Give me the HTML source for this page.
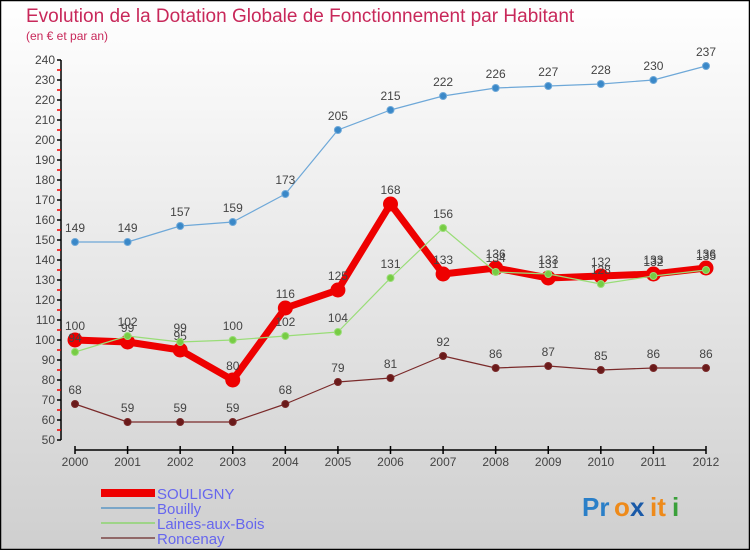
<!DOCTYPE html>
<html><head><meta charset="utf-8"><style>
body{margin:0;}
#c{width:750px;height:550px;position:relative;font-family:"Liberation Sans",sans-serif;}
</style></head><body>
<div id="c">
<svg width="750" height="550" id="svg">
<defs><linearGradient id="bg" x1="0" y1="0" x2="0" y2="1"><stop offset="0" stop-color="#ffffff"/><stop offset="1" stop-color="#cfcfcf"/></linearGradient></defs>
<rect x="0.5" y="0.5" width="749" height="549" fill="url(#bg)" stroke="#000" stroke-width="1.5"/>
<text x="26" y="22" font-size="19" fill="#c8285a">Evolution de la Dotation Globale de Fonctionnement par Habitant</text>
<text x="26" y="40" font-size="12" fill="#c8285a">(en € et par an)</text>
<g id="axes"></g><g id="series"></g>
<g>
<rect x="101" y="489" width="54" height="8" fill="#ee0000"/>
<text x="157" y="499" font-size="15" fill="#6666ee">SOULIGNY</text>
<line x1="101" y1="508" x2="155" y2="508" stroke="#7aa6c8" stroke-width="2"/>
<text x="157" y="514" font-size="15" fill="#6666ee">Bouilly</text>
<line x1="101" y1="523" x2="155" y2="523" stroke="#9ed488" stroke-width="2"/>
<text x="157" y="529" font-size="15" fill="#6666ee">Laines-aux-Bois</text>
<line x1="101" y1="538" x2="155" y2="538" stroke="#906868" stroke-width="2"/>
<text x="157" y="544" font-size="15" fill="#6666ee">Roncenay</text>
</g>
<g font-size="26" font-weight="bold">
<text x="582" y="516" fill="#2a7fc8">Pr</text><text x="614" y="516" fill="#ee8a1a">o</text><text x="630" y="516" fill="#1a5aa8">x</text><text x="650" y="516" fill="#ee8a1a">it</text><text x="672" y="516" fill="#3aa03a">i</text>
</g>
</svg>
</div>
<script>
const years=[2000,2001,2002,2003,2004,2005,2006,2007,2008,2009,2010,2011,2012];
const yTicks=[50,60,70,80,90,100,110,120,130,140,150,160,170,180,190,200,210,220,230,240];
const souligny=[100,99,95,80,116,125,168,133,136,131,132,133,136];
const bouilly=[149,149,157,159,173,205,215,222,226,227,228,230,237];
const laines=[94,102,99,100,102,104,131,156,134,133,128,132,135];
const roncenay=[68,59,59,59,68,79,81,92,86,87,85,86,86];
const NS="http://www.w3.org/2000/svg";
function xS(i){return 75+i*(706-75)/(years.length-1);}
function yS(v){return 60+(240-v)*2;}
function mk(tag,attrs,parent){const e=document.createElementNS(NS,tag);for(const k in attrs)e.setAttribute(k,attrs[k]);parent.appendChild(e);return e;}
const ax=document.getElementById('axes');
let l=mk('line',{x1:61,y1:60,x2:61,y2:440,stroke:'#000','stroke-width':1.5},ax);


yTicks.forEach(v=>{
 const t=mk('line',{x1:57,y1:yS(v),x2:61,y2:yS(v),stroke:'#000','stroke-width':1.5},ax);
 
 
 if(v<240){const m=mk('line',{x1:57,y1:yS(v+5),x2:61,y2:yS(v+5),stroke:'#e00','stroke-width':1.5},ax);
 
 }
 const tx=mk('text',{x:55,y:yS(v)+4,'font-size':12,fill:'#444','text-anchor':'end'},ax);tx.textContent=v;
 
 
});
l=mk('line',{x1:75,y1:450,x2:706,y2:450,stroke:'#000','stroke-width':1.5},ax);


years.forEach((y,i)=>{
 const t=mk('line',{x1:xS(i),y1:446,x2:xS(i),y2:454,stroke:'#000','stroke-width':1.5},ax);
 
 
 const tx=mk('text',{x:xS(i),y:466,'font-size':12,fill:'#444','text-anchor':'middle'},ax);tx.textContent=y;
 
 
});
const sg=document.getElementById('series');
function draw(name,data,color,w,r,dot){
 const g=mk('g',{},sg);
 
 
 const p=mk('polyline',{points:data.map((v,i)=>xS(i)+','+yS(v)).join(' '),fill:'none',stroke:color,'stroke-width':w,'stroke-linejoin':'round'},g);
 
 
 data.forEach((v,i)=>{
  const c=mk('circle',{cx:xS(i),cy:yS(v),r:r,fill:dot,stroke:color,'stroke-width':1},g);
  
  
  const t=mk('text',{x:xS(i),y:yS(v)-10,'font-size':12,fill:'#444','text-anchor':'middle'},g);t.textContent=v;
  
  
 });
}
draw('roncenay',roncenay,'#7a2a2a',1.2,3.5,'#6a1a1a');
draw('bouilly',bouilly,'#6ea8d8',1.2,3.5,'#3a88c8');
draw('souligny',souligny,'#ee0000',7,7,'#ee0000');
draw('laines',laines,'#99dd77',1.2,3.5,'#77cc44');
</script>
</body></html>
